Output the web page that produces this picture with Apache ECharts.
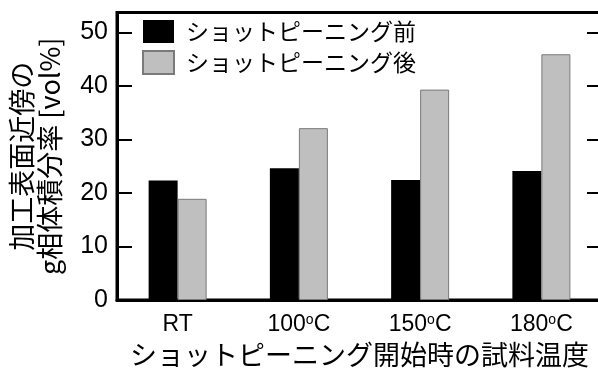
<!DOCTYPE html>
<html>
<head>
<meta charset="utf-8">
<script src="https://cdn.jsdelivr.net/npm/echarts@6/dist/echarts.min.js"></script>
<style>
  html, body { margin: 0; padding: 0; background: #fff; }
  #chart { width: 598px; height: 370px; }
</style>
</head>
<body>
<div id="chart"></div>
<script>
// Starting temperature of shot peening (category labels, "o" drawn as a superscript degree)
const categories = ['RT', '100|o|C', '150|o|C', '180|o|C'];
const seriesNames = ['ショットピーニング前', 'ショットピーニング後'];
// γ-phase volume fraction near the machined surface [vol%]
const beforePeening = [22.3, 24.6, 22.4, 24.1];
const afterPeening = [18.9, 32.1, 39.3, 45.9];
const yTicks = [0, 10, 20, 30, 40, 50];

const FONT = '"Liberation Sans", Arial, "Noto Sans CJK JP", sans-serif';
const JP = '"Noto Sans CJK JP", "Liberation Sans", sans-serif';
const Y_MAX = 53.7;

// "100|o|C" -> rich text with a raised small "o"
function categoryLabel(v) {
  const parts = v.split('|');
  if (parts.length === 1) return '{n|' + v + '}';
  return '{n|' + parts[0] + '}{sup|' + parts[1] + '}{n|' + parts[2] + '}';
}

const chart = echarts.init(document.getElementById('chart'), null, { renderer: 'canvas' });

chart.setOption({
  animation: false,
  backgroundColor: '#fff',
  grid: {
    left: 117, top: 12.5, right: -4, bottom: 70,
    outerBoundsMode: 'none',
    containLabel: false,
    show: true, borderColor: '#000', borderWidth: 3, backgroundColor: 'transparent'
  },
  legend: {
    orient: 'vertical',
    left: 142, top: 20, padding: 0,
    itemWidth: 31, itemHeight: 23, itemGap: 7,
    icon: 'rect',
    textStyle: { fontFamily: JP, fontSize: 23, color: '#000', padding: [0, 0, 0, 7] },
    data: seriesNames
  },
  xAxis: {
    type: 'category',
    data: categories,
    axisLine: { lineStyle: { color: '#000', width: 3 } },
    axisTick: { show: false },
    axisLabel: {
      interval: 0,
      margin: 13,
      formatter: categoryLabel,
      color: '#000',
      rich: {
        n: { fontFamily: FONT, fontSize: 23, color: '#000' },
        sup: { fontFamily: FONT, fontSize: 14, color: '#000', verticalAlign: 'bottom', padding: [0, 0, 9, 0] }
      }
    },
    name: 'ショットピーニング開始時の試料温度',
    nameLocation: 'middle',
    nameGap: 39,
    nameTextStyle: { fontFamily: JP, fontSize: 27, color: '#000' }
  },
  yAxis: [
    {
      type: 'value',
      min: 0, max: Y_MAX, interval: 10,
      splitLine: { show: false },
      axisLine: { show: true, lineStyle: { color: '#000', width: 3 } },
      axisTick: { show: true, inside: true, length: 15, lineStyle: { color: '#000', width: 2 } },
      axisLabel: {
        showMaxLabel: false, margin: 9,
        formatter: v => (yTicks.indexOf(v) >= 0 ? String(v) : ''),
        color: '#000', fontFamily: FONT, fontSize: 25
      },
      name: '加工表面近傍の\ng相体積分率 [vol%]',
      nameLocation: 'middle',
      nameGap: 53,
      nameTextStyle: { fontFamily: JP, fontSize: 27, lineHeight: 28, color: '#000' }
    },
    {
      type: 'value',
      position: 'right',
      min: 0, max: Y_MAX, interval: 10,
      splitLine: { show: false },
      axisLine: { show: true, lineStyle: { color: '#000', width: 3 } },
      axisTick: { show: true, inside: true, length: 15, lineStyle: { color: '#000', width: 2 } },
      axisLabel: { show: false }
    }
  ],
  series: [
    {
      name: seriesNames[0], type: 'bar', data: beforePeening,
      barWidth: 29, barGap: '0%',
      itemStyle: { color: '#000' }
    },
    {
      name: seriesNames[1], type: 'bar', data: afterPeening,
      barWidth: 29, barGap: '0%',
      itemStyle: { color: '#bfbfbf', borderColor: '#7a7a7a', borderWidth: 1 }
    }
  ]
});
</script>
</body>
</html>
